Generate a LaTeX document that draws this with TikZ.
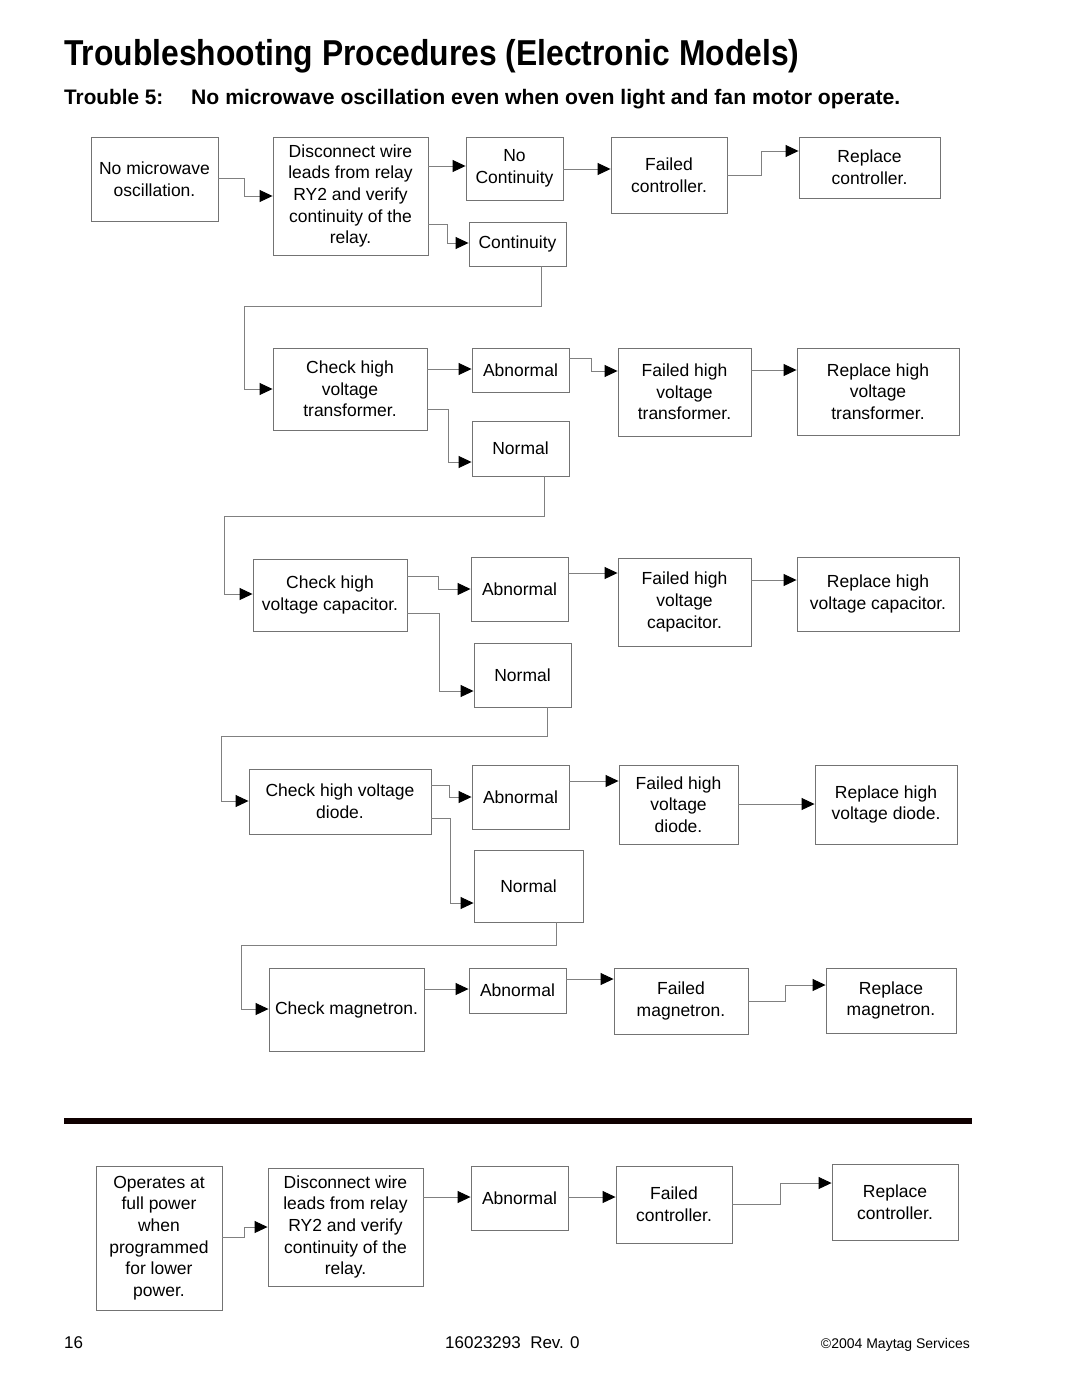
\documentclass[tikz,border=0pt]{standalone}
\usepackage{fontspec}
\setmainfont{Liberation Sans}
\usetikzlibrary{arrows.meta}
\newcommand\boxfont{\fontsize{17.5}{21.7}\selectfont}
\newcommand\bx[6]{\node[box, minimum width={(#4)-(#2)}, minimum height={(#5)-(#3)}] (#1) at ({((#2)+(#4))/2},{((#3)+(#5))/2}) {#6};}
\tikzset{
  box/.style={draw=black!55, line width=0.9pt, inner sep=0pt, align=center, font=\boxfont},
  conn/.style={draw=black!50, line width=0.9pt, -{Triangle[length=13pt,width=12pt,color=black]}},
  plain/.style={inner sep=0pt},
}
\begin{document}
\begin{tikzpicture}[x=1pt,y=-1pt]
\useasboundingbox[fill=white] (0,0) rectangle (1080,1397);
% titles
\node[plain, anchor=base west] (title) at (64,66) {\resizebox{735pt}{\height}{\fontsize{36}{40}\selectfont\bfseries Troubleshooting Procedures (Electronic Models)}};
\node[plain, anchor=base west] (sub1) at (64,104) {\resizebox{99pt}{\height}{\fontsize{21}{24}\selectfont\bfseries Trouble 5:}};
\node[plain, anchor=base west] (sub2) at (191,104) {\resizebox{709pt}{\height}{\fontsize{21}{24}\selectfont\bfseries No microwave oscillation even when oven light and fan motor operate.}};
% row 1
\bx{A1}{91}{137}{218}{221}{No microwave\\oscillation.}
\bx{A2}{273}{137}{428}{255}{Disconnect wire\\leads from relay\\RY2 and verify\\continuity of the\\relay.}
\bx{A3}{466}{137}{563}{200}{No\\Continuity}
\bx{A4}{469}{222}{566}{266}{Continuity}
\bx{A5}{611}{137}{727}{213}{Failed\\controller.}
\bx{A6}{799}{137}{940}{198}{Replace\\controller.}
% row 2
\bx{B1}{273}{348}{427}{430}{Check high\\voltage\\transformer.}
\bx{B2}{472}{348}{569}{392}{Abnormal}
\bx{B3}{472}{421}{569}{476}{Normal}
\bx{B4}{618}{348}{751}{436}{Failed high\\voltage\\transformer.}
\bx{B5}{797}{348}{959}{435}{Replace high\\voltage\\transformer.}
% row 3
\bx{C1}{253}{559}{407}{631}{Check high\\voltage capacitor.}
\bx{C2}{471}{557}{568}{621}{Abnormal}
\bx{C3}{474}{643}{571}{707}{Normal}
\bx{C4}{618}{558}{751}{646}{Failed high\\voltage\\capacitor.}
\bx{C5}{797}{557}{959}{631}{Replace high\\voltage capacitor.}
% row 4
\bx{D1}{249}{769}{431}{834}{Check high voltage\\diode.}
\bx{D2}{472}{765}{569}{829}{Abnormal}
\bx{D3}{474}{850}{583}{922}{Normal}
\bx{D4}{619}{765}{738}{844}{Failed high\\voltage\\diode.}
\bx{D5}{815}{765}{957}{844}{Replace high\\voltage diode.}
% row 5
\bx{E1}{269}{968}{424}{1051}{Check magnetron.}
\bx{E2}{469}{968}{566}{1013}{Abnormal}
\bx{E3}{614}{968}{748}{1034}{Failed\\magnetron.}
\bx{E4}{826}{968}{956}{1033}{Replace\\magnetron.}
% rule
\fill[black!90!red!60!black] (64,1118) rectangle (972,1124);
% bottom row
\bx{F1}{96}{1166}{222}{1310}{Operates at\\full power\\when\\programmed\\for lower\\power.}
\bx{F2}{268}{1168}{423}{1286}{Disconnect wire\\leads from relay\\RY2 and verify\\continuity of the\\relay.}
\bx{F3}{471}{1166}{568}{1230}{Abnormal}
\bx{F4}{616}{1166}{732}{1243}{Failed\\controller.}
\bx{F5}{832}{1164}{958}{1240}{Replace\\controller.}
% connectors row 1
\draw[conn] (A1.east |- 0,178) -- (244,178) |- (A2.west |- 0,196);
\draw[conn] (A2.east |- 0,166) -- (A3.west |- 0,166);
\draw[conn] (A2.east |- 0,224) -- (447,224) |- (A4.west |- 0,243);
\draw[conn] (A3.east |- 0,169) -- (A5.west |- 0,169);
\draw[conn] (A5.east |- 0,175) -- (761,175) |- (A6.west |- 0,151);
\draw[conn] (541,0 |- A4.south) -- (541,306) -- (244,306) |- (B1.west |- 0,389);
% row 2
\draw[conn] (B1.east |- 0,369) -- (B2.west |- 0,369);
\draw[conn] (B1.east |- 0,409) -- (448,409) |- (B3.west |- 0,462);
\draw[conn] (B2.east |- 0,358) -- (591,358) |- (B4.west |- 0,371);
\draw[conn] (B4.east |- 0,370) -- (B5.west |- 0,370);
\draw[conn] (544,0 |- B3.south) -- (544,516) -- (224,516) |- (C1.west |- 0,594);
% row 3
\draw[conn] (C1.east |- 0,576) -- (438,576) |- (C2.west |- 0,589);
\draw[conn] (C1.east |- 0,613) -- (439,613) |- (C3.west |- 0,691);
\draw[conn] (C2.east |- 0,573) -- (C4.west |- 0,573);
\draw[conn] (C4.east |- 0,580) -- (C5.west |- 0,580);
\draw[conn] (547,0 |- C3.south) -- (547,736) -- (221,736) |- (D1.west |- 0,801);
% row 4
\draw[conn] (D1.east |- 0,785) -- (449,785) |- (D2.west |- 0,797);
\draw[conn] (D1.east |- 0,818) -- (450,818) |- (D3.west |- 0,903);
\draw[conn] (D2.east |- 0,781) -- (D4.west |- 0,781);
\draw[conn] (D4.east |- 0,804) -- (D5.west |- 0,804);
\draw[conn] (556,0 |- D3.south) -- (556,945) -- (241,945) |- (E1.west |- 0,1009);
% row 5
\draw[conn] (E1.east |- 0,989) -- (E2.west |- 0,989);
\draw[conn] (E2.east |- 0,979) -- (E3.west |- 0,979);
\draw[conn] (E3.east |- 0,1001) -- (785,1001) |- (E4.west |- 0,985);
% bottom row
\draw[conn] (F1.east |- 0,1237) -- (244,1237) |- (F2.west |- 0,1227);
\draw[conn] (F2.east |- 0,1197) -- (F3.west |- 0,1197);
\draw[conn] (F3.east |- 0,1197) -- (F4.west |- 0,1197);
\draw[conn] (F4.east |- 0,1204) -- (780,1204) |- (F5.west |- 0,1183);
% footer
\node[plain, anchor=base west, font=\fontsize{17}{20}\selectfont] (pg) at (64,1348) {16};
\node[plain, anchor=base west, font=\fontsize{17}{20}\selectfont] (doc) at (445,1348) {16023293\ \ Rev. 0};
\node[plain, anchor=base east, font=\fontsize{14}{17}\selectfont] (copy) at (970,1348) {©2004 Maytag Services};
\end{tikzpicture}
\end{document}
